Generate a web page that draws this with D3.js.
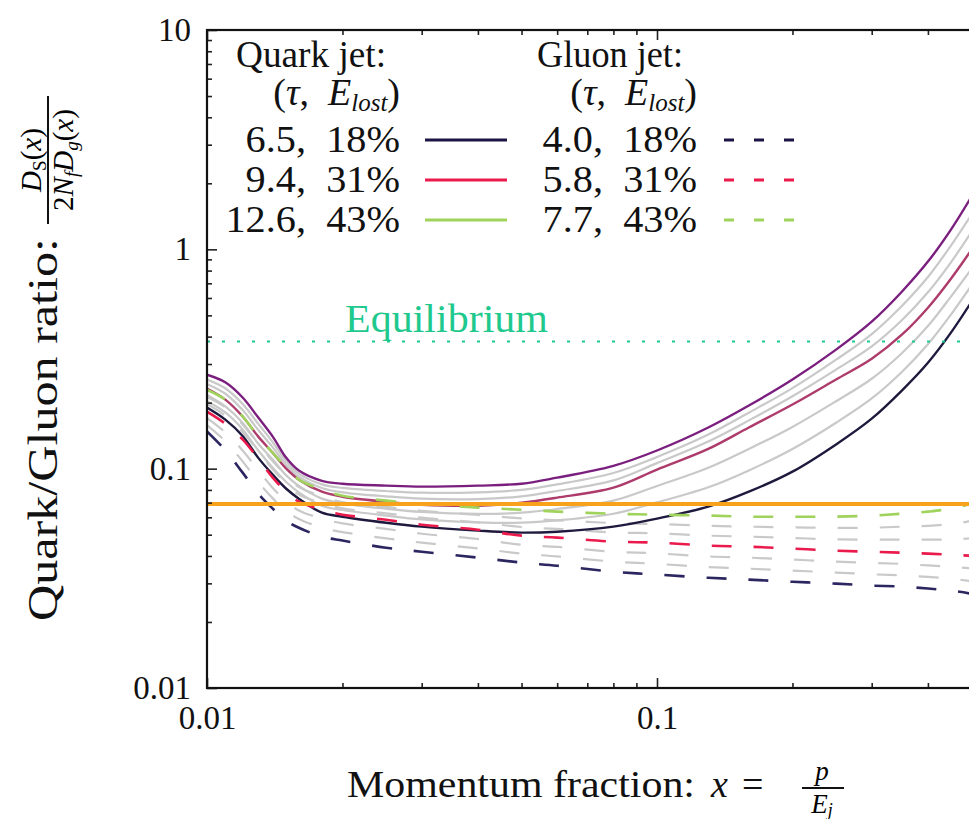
<!DOCTYPE html>
<html><head><meta charset="utf-8">
<script src="https://cdn.jsdelivr.net/npm/d3@7/dist/d3.min.js"></script>
<style>
body{margin:0;background:#fff}
svg{display:block}
text{white-space:pre}
</style>
</head><body>
<svg id="chart" width="969" height="819"></svg>
<script>
// ---------- data ----------
const xValues = [0.01,0.011,0.012,0.013,0.014,0.015,0.016,0.018,0.02,0.025,0.03,0.04,0.05,0.06,0.08,0.1,0.13,0.16,0.2,0.25,0.3,0.35,0.4,0.45,0.5];

// solid (quark jet) curves, top to bottom
const quarkTop   = [0.268,0.247,0.211,0.171,0.140,0.112,0.098,0.088,0.0854,0.0837,0.0828,0.0837,0.0854,0.0910,0.103,0.121,0.154,0.194,0.255,0.349,0.468,0.641,0.879,1.23,1.74];
const quarkGray1 = [0.255,0.232,0.197,0.160,0.132,0.108,0.0949,0.0848,0.0817,0.0791,0.0777,0.0780,0.0800,0.0848,0.0956,0.113,0.143,0.180,0.233,0.314,0.411,0.552,0.748,1.04,1.44];
const quarkGray2 = [0.243,0.219,0.185,0.150,0.125,0.104,0.0920,0.0817,0.0780,0.0748,0.0730,0.0727,0.0748,0.0791,0.0884,0.106,0.133,0.166,0.214,0.283,0.361,0.475,0.637,0.873,1.20];
const quarkMid   = [0.232,0.206,0.173,0.140,0.118,0.100,0.0891,0.0785,0.0745,0.0707,0.0685,0.0678,0.0700,0.0738,0.0819,0.0990,0.123,0.154,0.196,0.255,0.317,0.408,0.542,0.735,0.997];
const quarkGray3 = [0.217,0.192,0.162,0.130,0.110,0.0932,0.0834,0.0730,0.0695,0.0657,0.0635,0.0622,0.0630,0.0655,0.0715,0.0834,0.101,0.123,0.155,0.203,0.257,0.336,0.447,0.609,0.814];
const quarkGray4 = [0.203,0.180,0.151,0.121,0.101,0.0870,0.0780,0.0678,0.0648,0.0611,0.0587,0.0569,0.0567,0.0581,0.0623,0.0702,0.0822,0.0982,0.123,0.162,0.209,0.276,0.369,0.504,0.685];
const quarkLow   = [0.190,0.167,0.141,0.112,0.0939,0.0810,0.0730,0.0630,0.0604,0.0567,0.0544,0.0522,0.0511,0.0516,0.0544,0.0592,0.0671,0.0785,0.0969,0.129,0.169,0.227,0.304,0.417,0.577];

// dashed (gluon jet) curves, top to bottom
const gluonTop   = [0.229,0.206,0.173,0.140,0.118,0.101,0.0891,0.0802,0.0753,0.0715,0.0692,0.0664,0.0650,0.0637,0.0623,0.0617,0.0611,0.0604,0.0604,0.0604,0.0611,0.0623,0.0637,0.0657,0.0692];
const gluonGray1 = [0.212,0.190,0.159,0.130,0.108,0.0929,0.0825,0.0748,0.0705,0.0669,0.0643,0.0615,0.0593,0.0581,0.0565,0.0559,0.0549,0.0544,0.0540,0.0537,0.0538,0.0544,0.0549,0.0559,0.0577];
const gluonGray2 = [0.197,0.174,0.147,0.120,0.0993,0.0854,0.0763,0.0698,0.0659,0.0625,0.0598,0.0569,0.0542,0.0531,0.0512,0.0507,0.0495,0.0490,0.0483,0.0476,0.0475,0.0475,0.0475,0.0476,0.0481];
const gluonMid   = [0.182,0.160,0.136,0.111,0.0910,0.0785,0.0707,0.0650,0.0617,0.0585,0.0555,0.0527,0.0495,0.0485,0.0465,0.0460,0.0446,0.0441,0.0432,0.0423,0.0418,0.0414,0.0410,0.0405,0.0401];
const gluonGray3 = [0.170,0.146,0.121,0.0982,0.0817,0.0709,0.0645,0.0592,0.0563,0.0531,0.0505,0.0478,0.0450,0.0440,0.0418,0.0411,0.0398,0.0393,0.0385,0.0377,0.0372,0.0368,0.0362,0.0357,0.0351];
const gluonGray4 = [0.158,0.133,0.108,0.0870,0.0732,0.0641,0.0590,0.0538,0.0514,0.0481,0.0460,0.0433,0.0410,0.0398,0.0377,0.0368,0.0356,0.0350,0.0343,0.0336,0.0330,0.0326,0.0321,0.0315,0.0307];
const gluonLow   = [0.148,0.121,0.0959,0.0769,0.0657,0.0579,0.0538,0.0490,0.0470,0.0436,0.0418,0.0393,0.0373,0.0361,0.0339,0.0329,0.0318,0.0312,0.0305,0.0299,0.0293,0.0290,0.0284,0.0278,0.0269];

const equilibriumLevel = 0.38;
const referenceLevel = 0.069;

const xTickLabels = [0.01, 0.1];
const yTickLabels = [0.01, 0.1, 1, 10];
const quarkLegend = ["6.5,  18%", "9.4,  31%", "12.6,  43%"];
const gluonLegend = ["4.0,  18%", "5.8,  31%", "7.7,  43%"];
const legendColors = ["#1b1445", "#ea1a4c", "#9fd35c"];

const FONT = "Liberation Serif";

// ---------- layout ----------
const svg = d3.select("#chart").attr("font-family", FONT);
const L = 207, T = 30, B = 688;
const x = d3.scaleLog().domain([0.01, 0.5]).range([L, L + 450 * Math.log10(50)]);
const y = d3.scaleLog().domain([0.01, 10]).range([B, T]);
const R = x.range()[1];

svg.append("defs").append("clipPath").attr("id","clip")
  .append("rect").attr("x",L).attr("y",T).attr("width",R-L).attr("height",B-T);

const plot = svg.append("g").attr("clip-path","url(#clip)");
const line = d3.line().x((d,i)=>x(xValues[i])).y(d=>y(d)).curve(d3.curveCatmullRom.alpha(0.5));

function drawSeries(data, color, width, dash){
  const p = plot.append("path").attr("d", line(data)).attr("fill","none")
    .attr("stroke", color).attr("stroke-width", width).attr("stroke-linecap","butt");
  if (dash) p.attr("stroke-dasharray", dash);
}
const gray = "#c9c9c9";
[quarkGray1, quarkGray2, quarkGray3, quarkGray4].forEach(s => drawSeries(s, gray, 2.2));
[gluonGray1, gluonGray2, gluonGray3, gluonGray4].forEach(s => drawSeries(s, gray, 2.2, "20,22"));
drawSeries(quarkTop, "#7b1f7f", 2.4);
drawSeries(quarkMid, "#ad3b6b", 2.4);
drawSeries(quarkLow, "#1d1a3e", 2.4);
drawSeries(gluonTop, "#9fd35c", 2.6, "20,22");
drawSeries(gluonMid, "#ea1a4c", 2.6, "20,22");
drawSeries(gluonLow, "#2b2560", 2.6, "20,22");

// equilibrium & reference lines
plot.append("line").attr("x1",L).attr("x2",R).attr("y1",y(equilibriumLevel)).attr("y2",y(equilibriumLevel))
  .attr("stroke","#1fc98e").attr("stroke-width",2).attr("stroke-dasharray","3,12");
plot.append("line").attr("x1",L).attr("x2",R).attr("y1",y(referenceLevel)).attr("y2",y(referenceLevel))
  .attr("stroke","#f7a21a").attr("stroke-width",4);
svg.append("text").attr("x",345).attr("y",y(equilibriumLevel)-10)
  .attr("font-size",40).attr("fill","#1fc98e")
  .attr("textLength",203).attr("lengthAdjust","spacingAndGlyphs").text("Equilibrium");

// ---------- axes ----------
const fmt = d => String(d);
const majorsY = yTickLabels, minorsY = [];
for (let e = -2; e < 1; e++) for (let k = 2; k <= 9; k++) minorsY.push(k * Math.pow(10, e));
const majorsX = xTickLabels, minorsX = [];
for (const e of [-2, -1]) for (let k = 2; k <= 9; k++) { const v = k*Math.pow(10,e); if (v <= 0.5) minorsX.push(v); }

function styleAxis(g){
  g.attr("font-family", FONT);
  g.select(".domain").remove();
  g.selectAll("line").attr("stroke","#222").attr("stroke-width",1.6);
  g.selectAll("text").attr("font-size",33).attr("fill","#111");
}

svg.append("g").attr("transform",`translate(${L},0)`)
  .call(d3.axisLeft(y).tickValues(majorsY).tickSize(-10).tickPadding(16).tickFormat(fmt)).call(styleAxis);
svg.append("g").attr("transform",`translate(${L},0)`)
  .call(d3.axisLeft(y).tickValues(minorsY).tickSize(-5).tickFormat("")).call(styleAxis);
svg.append("g").attr("transform",`translate(0,${B})`)
  .call(d3.axisBottom(x).tickValues(majorsX).tickSize(-10).tickPadding(18).tickFormat(fmt)).call(styleAxis);
svg.append("g").attr("transform",`translate(0,${B})`)
  .call(d3.axisBottom(x).tickValues(minorsX).tickSize(-5).tickFormat("")).call(styleAxis);
svg.append("g").attr("transform",`translate(0,${T})`)
  .call(d3.axisTop(x).tickValues(majorsX).tickSize(-10).tickFormat("")).call(styleAxis);
svg.append("g").attr("transform",`translate(0,${T})`)
  .call(d3.axisTop(x).tickValues(minorsX).tickSize(-5).tickFormat("")).call(styleAxis);

// frame
svg.append("rect").attr("x",L).attr("y",T).attr("width",R-L).attr("height",B-T)
  .attr("fill","none").attr("stroke","#111").attr("stroke-width",2.2);

// ---------- axis titles ----------
svg.append("text").attr("x",347).attr("y",797).attr("font-size",38).attr("fill","#111")
  .attr("textLength",348).attr("lengthAdjust","spacingAndGlyphs").text("Momentum fraction:");
svg.append("text").attr("x",711).attr("y",797).attr("font-size",38).attr("font-style","italic").attr("fill","#111").text("x");
svg.append("text").attr("x",742).attr("y",797).attr("font-size",38).attr("fill","#111").text("=");
const fx = 822;
svg.append("line").attr("x1",fx-20).attr("x2",fx+22).attr("y1",788).attr("y2",788).attr("stroke","#111").attr("stroke-width",2);
svg.append("text").attr("x",fx).attr("y",780).attr("font-size",27).attr("font-style","italic").attr("text-anchor","middle").text("p");
const ej = svg.append("text").attr("x",fx).attr("y",813).attr("font-size",27).attr("text-anchor","middle");
ej.append("tspan").attr("font-style","italic").text("E");
ej.append("tspan").attr("font-style","italic").attr("font-size",18).attr("dy",3).text("j");

const yg = svg.append("g").attr("transform","rotate(-90)");
yg.append("text").attr("x",-621).attr("y",57).attr("font-size",42).attr("fill","#111")
  .attr("textLength",383).attr("lengthAdjust","spacingAndGlyphs").text("Quark/Gluon ratio:");
const fc = -160; // local x centre of fraction
yg.append("line").attr("x1",fc-64).attr("x2",fc+64).attr("y1",48).attr("y2",48).attr("stroke","#111").attr("stroke-width",2);
const num = yg.append("text").attr("x",fc).attr("y",41).attr("font-size",29).attr("text-anchor","middle");
num.append("tspan").attr("font-style","italic").text("D");
num.append("tspan").attr("font-size",19).attr("dy",5).text("S");
num.append("tspan").attr("dy",-5).text("(");
num.append("tspan").attr("font-style","italic").text("x");
num.append("tspan").text(")");
const den = yg.append("text").attr("x",fc).attr("y",73).attr("font-size",29).attr("text-anchor","middle");
den.append("tspan").text("2");
den.append("tspan").attr("font-style","italic").text("N");
den.append("tspan").attr("font-style","italic").attr("font-size",19).attr("dy",5).text("f");
den.append("tspan").attr("font-style","italic").attr("dy",-5).text("D");
den.append("tspan").attr("font-style","italic").attr("font-size",19).attr("dy",5).text("g");
den.append("tspan").attr("dy",-5).text("(");
den.append("tspan").attr("font-style","italic").text("x");
den.append("tspan").text(")");

// ---------- legend ----------
const lg = svg.append("g").attr("font-size",38).attr("fill","#111").attr("font-family",FONT);
function header(xRight, xLeft, title, w){
  lg.append("text").attr("x",xLeft).attr("y",67).attr("textLength",w).attr("lengthAdjust","spacingAndGlyphs").text(title);
  const t = lg.append("text").attr("x",xRight).attr("y",105).attr("text-anchor","end");
  t.append("tspan").text("(");
  t.append("tspan").attr("font-style","italic").text("τ");
  t.append("tspan").text(",  ");
  t.append("tspan").attr("font-style","italic").text("E");
  t.append("tspan").attr("font-style","italic").attr("font-size",25).attr("dy",6).text("lost");
  t.append("tspan").attr("dy",-6).text(")");
}
header(400, 236, "Quark jet:", 150);
header(697, 537, "Gluon jet:", 146);
const rowY = [152, 192, 232];
function rowText(xRight, yy, s){
  const t = lg.append("text").attr("x",xRight).attr("y",yy).attr("font-size",38).attr("text-anchor","end")
    .attr("font-family",FONT).text(s);
  const w = t.node().getComputedTextLength();
  t.attr("textLength", w * 1.06).attr("lengthAdjust","spacingAndGlyphs");
}
quarkLegend.forEach((s,i)=>{
  rowText(400, rowY[i], s);
  svg.append("line").attr("x1",425).attr("x2",507).attr("y1",rowY[i]-12).attr("y2",rowY[i]-12)
    .attr("stroke",legendColors[i]).attr("stroke-width",3);
});
gluonLegend.forEach((s,i)=>{
  rowText(697, rowY[i], s);
  svg.append("line").attr("x1",724).attr("x2",796).attr("y1",rowY[i]-12).attr("y2",rowY[i]-12)
    .attr("stroke",legendColors[i]).attr("stroke-width",3).attr("stroke-dasharray","10,20");
});

svg.selectAll("text").attr("font-family", FONT);
</script>
</body></html>
